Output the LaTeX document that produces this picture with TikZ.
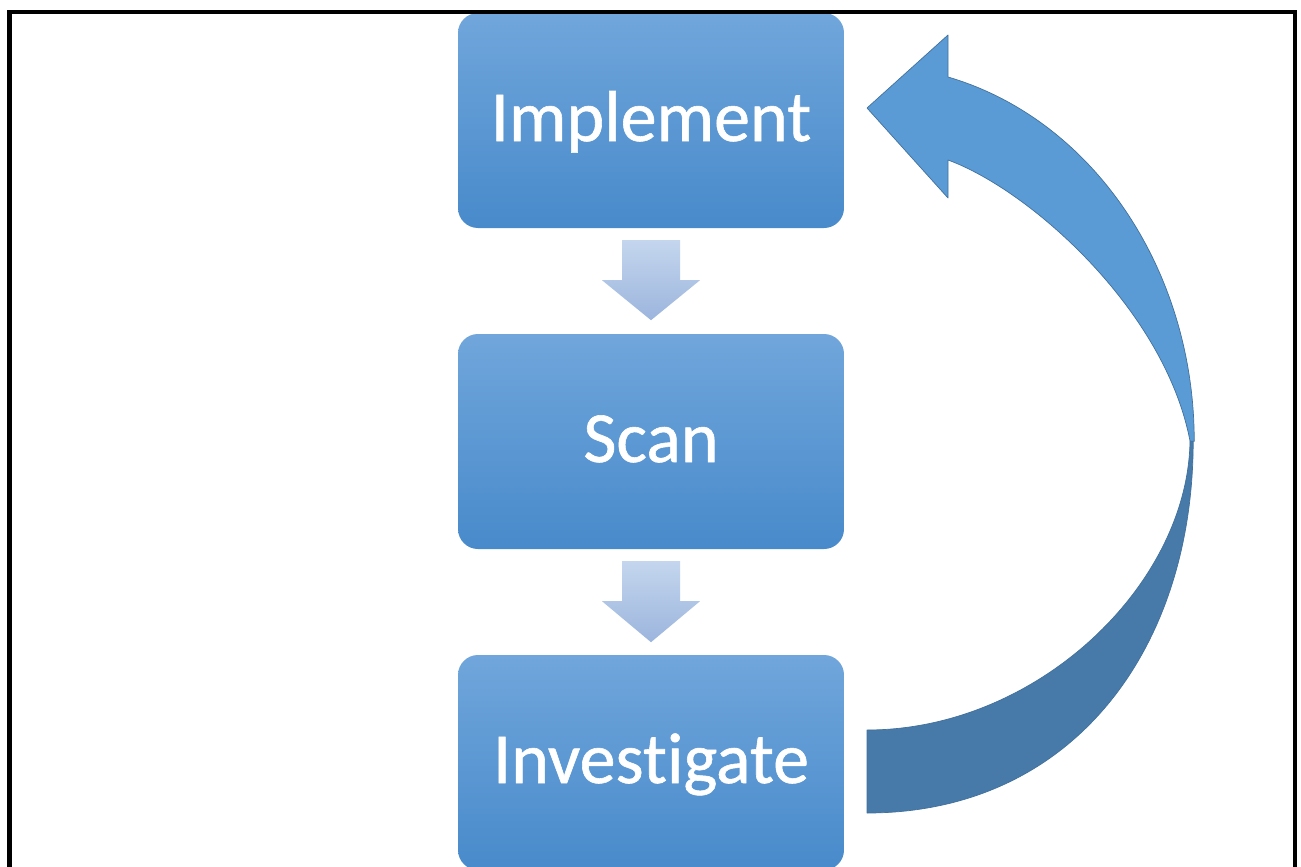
\documentclass[tikz,border=0pt]{standalone}
\usepackage{fontspec}
\setmainfont{Carlito}[Ligatures={NoCommon}]
\newfontfamily\boxfont{Carlito}[Ligatures={NoCommon},FakeBold=0.8]
\usetikzlibrary{calc}
\definecolor{boxtop}{RGB}{112,166,219}
\definecolor{boxbot}{RGB}{72,138,203}
\definecolor{smalltop}{RGB}{196,214,238}
\definecolor{smallbot}{RGB}{156,181,221}
\definecolor{arrowlight}{RGB}{91,155,213}
\definecolor{arrowdark}{RGB}{71,122,169}
\definecolor{arrowedge}{RGB}{65,113,156}
\tikzset{
  stepbox/.style={rectangle, rounded corners=20pt, minimum width=386pt, minimum height=215pt,
    inner sep=0pt, top color=boxtop, bottom color=boxbot, draw=none,
    text=white, font=\boxfont\fontsize{72}{80}\selectfont, text height=51pt, text depth=10pt},
  downarrow/.style={top color=smalltop, bottom color=smallbot, draw=none},
  loopupper/.style={fill=arrowlight, draw=arrowedge, line width=0.7pt, line join=round},
  looplower/.style={fill=arrowdark, draw=arrowedge, line width=0.7pt, line join=round},
  frameline/.style={line width=4.5pt, draw=black, line join=miter}
}
\begin{document}
\begin{tikzpicture}[x=1pt,y=1pt]
\useasboundingbox (0,0) rectangle (1301,-867);
\clip (0,0) rectangle (1301,-867);
\fill[white] (0,0) rectangle (1301,-867);

% boxes
\node[stepbox] (impl) at (651,-120.5) {Implement};
\node[stepbox] (scan) at (651,-441.5) {Scan};
\node[stepbox] (inv)  at (651,-762.5) {Investigate};

% small down arrows
\path[downarrow] ($(impl.south)+(-29,-12)$) -- ++(58,0) -- ++(0,-40) -- ++(20,0)
  -- ($(impl.south)+(0,-92)$) -- ($(impl.south)+(-49,-52)$) -- ++(20,0) -- cycle;
\path[downarrow] ($(scan.south)+(-29,-12)$) -- ++(58,0) -- ++(0,-40) -- ++(20,0)
  -- ($(scan.south)+(0,-93)$) -- ($(scan.south)+(-49,-52)$) -- ++(20,0) -- cycle;

% big curved return arrow
\coordinate (tip) at (867,-108);
\coordinate (headtop) at (948,-35);
\coordinate (necktop) at (948,-77);
\coordinate (neckbot) at (948,-160);
\coordinate (headbot) at (948,-198);
\coordinate (turnout) at (1193.2,-441.3);
\coordinate (pinch) at (1190,-441);
\coordinate (tailtop) at (867,-730);
\coordinate (tailbot) at (867,-813);

\path[looplower] (turnout) .. controls (1193,-650) and (1072,-813) .. (tailbot)
  -- (tailtop) .. controls (1037,-730) and (1188,-585) .. (pinch) -- cycle;
\path[loopupper] (tip) -- (headtop) -- (necktop)
  arc[start angle=75.7, end angle=0, x radius=327, y radius=376] -- (pinch)
  .. controls (1165,-310) and (1030,-190) .. (neckbot) -- (headbot) -- cycle;

% frame
\draw[frameline] (9.5,-900) -- (9.5,-12) -- (1295,-12) -- (1295,-900);
\end{tikzpicture}
\end{document}
